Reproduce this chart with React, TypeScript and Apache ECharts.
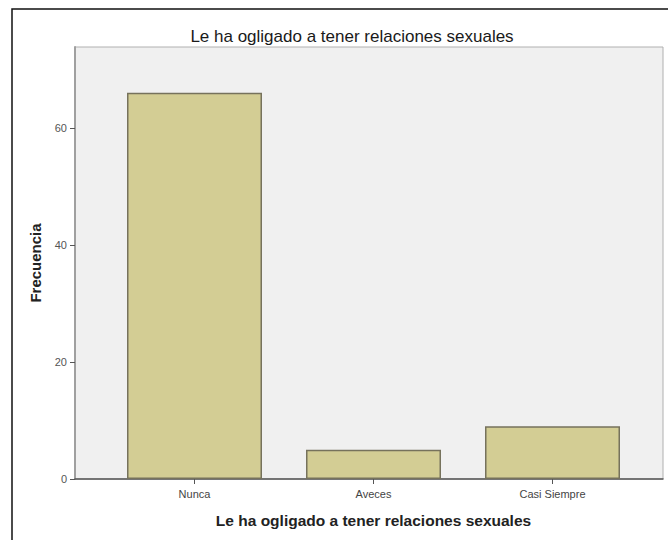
import React, { useEffect, useRef } from "react";
import * as echarts from "echarts";

const categories = ["Nunca", "Aveces", "Casi Siempre"];
const frecuencias = [66, 5, 9];
const yTicks = [0, 20, 40, 60];
const yMax = 73.8;
const chartTitle = "Le ha ogligado a tener relaciones sexuales";
const xTitle = "Le ha ogligado a tener relaciones sexuales";
const yTitle = "Frecuencia";

export default function App() {
  const ref = useRef<HTMLDivElement>(null);
  useEffect(() => {
    document.body.style.margin = "0";
    const chart = echarts.init(ref.current!, null, { renderer: "svg" });
    const font = "'Liberation Sans', Arial, sans-serif";
    chart.setOption({
      animation: false,
      backgroundColor: "#ffffff",
      title: {
        text: chartTitle,
        left: 347,
        top: 23,
        textAlign: "center",
        textStyle: { fontFamily: font, fontSize: 17, fontWeight: "normal", color: "#1a1a1a" },
      },
      graphic: [
        {
          type: "rect",
          shape: { x: 12, y: 9, width: 700, height: 600 },
          style: { fill: "none", stroke: "#111", lineWidth: 1.5 },
          z: 100,
        },
      ],
      grid: [
        {
          left: 75, top: 47, width: 588, height: 432, show: true,
          backgroundColor: "#f0f0f0", borderColor: "#b0b0b0", borderWidth: 1,
        },
        { left: 105, top: 47, width: 537, height: 432 },
      ],
      xAxis: [
        {
          gridIndex: 0, type: "value", min: 0, max: 1,
          axisLine: { show: true, onZero: false, lineStyle: { color: "#555", width: 1.5 } },
          axisTick: { show: false }, axisLabel: { show: false }, splitLine: { show: false },
        },
        {
          gridIndex: 1, type: "category", data: categories,
          axisLine: { show: false },
          axisTick: { show: true, alignWithLabel: true, length: 5, lineStyle: { color: "#555" } },
          axisLabel: { margin: 9, fontFamily: font, fontSize: 11, color: "#444" },
          name: xTitle, nameLocation: "middle", nameGap: 33,
          nameTextStyle: { fontFamily: font, fontSize: 15.5, fontWeight: "bold", color: "#222" },
        },
      ],
      yAxis: [
        {
          gridIndex: 0, type: "value", min: 0, max: yMax, interval: 20,
          axisLine: { show: true, lineStyle: { color: "#a0a0a0", width: 2 } },
          axisTick: { show: true, length: 5, customValues: yTicks, lineStyle: { color: "#555" } },
          axisLabel: { customValues: yTicks, margin: 8, fontFamily: font, fontSize: 11, color: "#555" },
          splitLine: { show: false },
          name: yTitle, nameLocation: "middle", nameGap: 32,
          nameTextStyle: { fontFamily: font, fontSize: 15, fontWeight: "bold", color: "#222" },
        },
        {
          gridIndex: 1, type: "value", min: 0, max: yMax, show: false, splitLine: { show: false },
        },
      ],
      series: [
        {
          type: "bar", xAxisIndex: 1, yAxisIndex: 1, data: frecuencias, barWidth: 135,
          itemStyle: { color: "#d3cd94", borderColor: "#76725c", borderWidth: 1.5 },
        },
      ],
    });
    return () => chart.dispose();
  }, []);
  return <div ref={ref} style={{ width: 668, height: 540 }} />;
}
